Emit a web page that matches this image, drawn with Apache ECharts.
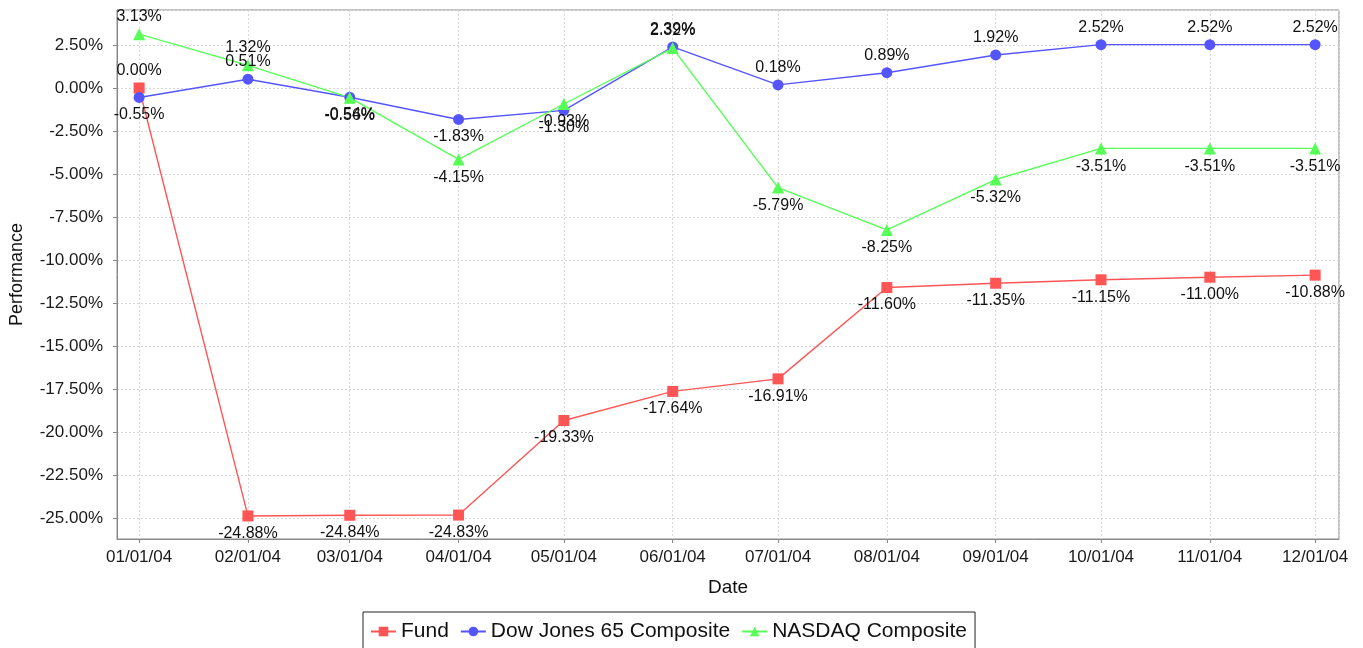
<!DOCTYPE html>
<html>
<head>
<meta charset="utf-8">
<script src="https://cdn.jsdelivr.net/npm/echarts@6/dist/echarts.min.js"></script>
<style>
  html, body { margin: 0; padding: 0; background: #fff; }
  #main { width: 1363px; height: 648px; }
</style>
</head>
<body>
<div id="main"></div>
<script>
var dates = ['2004-01-01', '2004-02-01', '2004-03-01', '2004-04-01', '2004-05-01', '2004-06-01',
  '2004-07-01', '2004-08-01', '2004-09-01', '2004-10-01', '2004-11-01', '2004-12-01']
var fund = [0.00, -24.88, -24.84, -24.83, -19.33, -17.64, -16.91, -11.60, -11.35, -11.15, -11.00, -10.88]
var dowJones = [-0.55, 0.51, -0.54, -1.83, -1.30, 2.39, 0.18, 0.89, 1.92, 2.52, 2.52, 2.52]
var nasdaq = [3.13, 1.32, -0.56, -4.15, -0.93, 2.32, -5.79, -8.25, -5.32, -3.51, -3.51, -3.51]
var seriesNames = ['Fund', 'Dow Jones 65 Composite', 'NASDAQ Composite']

var FONT = 'Liberation Sans, Arial, sans-serif'
var DAY = 86400000

function toDate (s) {
  var p = s.split('-')
  return new Date(+p[0], +p[1] - 1, +p[2]).getTime()
}

function pad2 (n) {
  return (n < 10 ? '0' : '') + n
}

// positive values get their label above the point, negative ones below
function buildData (values) {
  return values.map(function (v, i) {
    return {
      value: [toDate(dates[i]), v],
      label: { position: v >= 0 ? 'top' : 'bottom' }
    }
  })
}

var chart = echarts.init(document.getElementById('main'))
var xMin = toDate(dates[0]) - 6.3 * DAY
var xMax = toDate(dates[dates.length - 1]) + 6.8 * DAY

function makeSeries (name, values, color, symbol, size) {
  return {
    name: name,
    type: 'line',
    data: buildData(values),
    symbol: symbol,
    symbolSize: size,
    color: color,
    lineStyle: { color: color, width: 1.4 },
    itemStyle: { color: color },
    emphasis: { disabled: true },
    animation: false,
    label: {
      show: true,
      distance: 4,
      color: '#111',
      fontFamily: FONT,
      fontSize: 16,
      formatter: function (p) { return p.value[1].toFixed(2) + '%' }
    }
  }
}

var option = {
  backgroundColor: '#fff',
  animation: false,
  grid: {
    left: 117,
    right: 24,
    top: 10,
    bottom: 109,
    show: true,
    borderColor: '#888',
    borderWidth: 1,
    containLabel: false
  },
  legend: {
    left: 363,
    top: 612,
    padding: [9, 8, 12, 7],
    itemWidth: 25,
    itemHeight: 12,
    itemGap: 11,
    borderColor: '#222',
    borderWidth: 1,
    data: seriesNames,
    textStyle: { fontFamily: FONT, fontSize: 21, color: '#111' }
  },
  xAxis: {
    type: 'time',
    min: xMin,
    max: xMax,
    minInterval: 28 * DAY,
    maxInterval: 31 * DAY,
    name: 'Date',
    nameLocation: 'middle',
    nameGap: 39,
    nameTextStyle: { fontFamily: FONT, fontSize: 19, color: '#111' },
    axisLine: { onZero: false, lineStyle: { color: '#888' } },
    axisTick: { show: true, length: 4, lineStyle: { color: '#888' } },
    axisLabel: {
      margin: 10,
      fontFamily: FONT,
      fontSize: 17,
      color: '#1a1a1a',
      showMinLabel: false,
      showMaxLabel: false,
      hideOverlap: false,
      formatter: function (val) {
        var d = new Date(val)
        if (d.getDate() !== 1) return ''
        return pad2(d.getMonth() + 1) + '/' + pad2(d.getDate()) + '/' + pad2(d.getFullYear() % 100)
      }
    },
    splitLine: { show: true, lineStyle: { color: '#d8d8d8', type: [2, 2] } }
  },
  yAxis: {
    type: 'value',
    min: -26.22,
    max: 4.535,
    minInterval: 2.5,
    maxInterval: 2.5,
    name: 'Performance',
    nameLocation: 'middle',
    nameGap: 91,
    nameTextStyle: { fontFamily: FONT, fontSize: 18, color: '#111' },
    axisLine: { show: true, lineStyle: { color: '#888' } },
    axisTick: { show: true, length: 4, lineStyle: { color: '#888' } },
    axisLabel: {
      margin: 14,
      fontFamily: FONT,
      fontSize: 17,
      color: '#1a1a1a',
      showMinLabel: false,
      showMaxLabel: false,
      formatter: function (v) { return v.toFixed(2) + '%' }
    },
    splitLine: { show: true, lineStyle: { color: '#d8d8d8', type: [2, 2] } }
  },
  series: [
    makeSeries(seriesNames[0], fund, '#ff5555', 'rect', 11),
    makeSeries(seriesNames[1], dowJones, '#5555ff', 'circle', 11),
    makeSeries(seriesNames[2], nasdaq, '#55ff55', 'triangle', 12)
  ]
}

chart.setOption(option)
</script>
</body>
</html>
